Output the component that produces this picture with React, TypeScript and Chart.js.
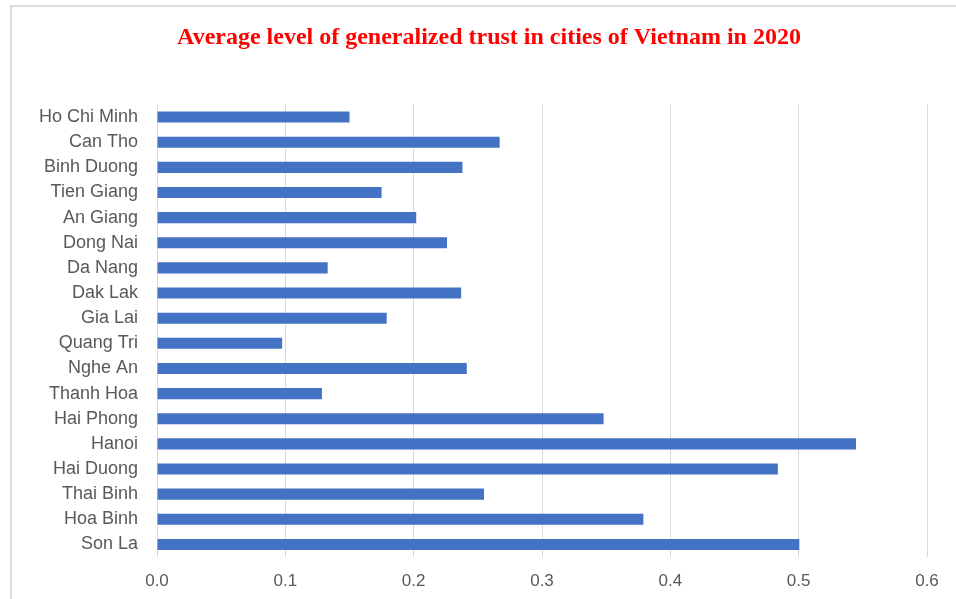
import React, { useEffect, useRef } from "react";
import { Chart, registerables } from "chart.js";

Chart.register(...registerables);

const TITLE = "Average level of generalized trust in cities of Vietnam in 2020";

const cities = [
  "Ho Chi Minh",
  "Can Tho",
  "Binh Duong",
  "Tien Giang",
  "An Giang",
  "Dong Nai",
  "Da Nang",
  "Dak Lak",
  "Gia Lai",
  "Quang Tri",
  "Nghe An",
  "Thanh Hoa",
  "Hai Phong",
  "Hanoi",
  "Hai Duong",
  "Thai Binh",
  "Hoa Binh",
  "Son La",
];

const trust = [
  0.15, 0.267, 0.238, 0.175, 0.202, 0.226, 0.133, 0.237, 0.179, 0.0975,
  0.2414, 0.1285, 0.348, 0.5447, 0.4838, 0.2548, 0.379, 0.5005,
];

const xMin = 0;
const xMax = 0.6;
const xStep = 0.1;

const decorPlugin = {
  id: "decor",
  beforeDraw(chart: any) {
    const ctx = chart.ctx;
    ctx.save();
    ctx.fillStyle = "#ffffff";
    ctx.fillRect(0, 0, chart.width, chart.height);
    ctx.strokeStyle = "#dcdcdc";
    ctx.lineWidth = 2;
    ctx.beginPath();
    ctx.moveTo(11, chart.height + 5);
    ctx.lineTo(11, 6);
    ctx.lineTo(chart.width + 5, 6);
    ctx.stroke();
    ctx.font = "bold 24px 'Liberation Serif', 'Times New Roman', serif";
    ctx.fillStyle = "#ff0000";
    ctx.textAlign = "center";
    ctx.textBaseline = "middle";
    ctx.fillText(TITLE, 489, 38);
    ctx.restore();
  },
};

export default function App() {
  const ref = useRef<HTMLCanvasElement>(null);
  useEffect(() => {
    document.body.style.margin = "0";
    const chart = new Chart(ref.current as HTMLCanvasElement, {
      type: "bar",
      data: {
        labels: cities,
        datasets: [
          {
            data: trust,
            backgroundColor: "#4472C4",
            borderWidth: 0,
            barPercentage: 0.44,
            categoryPercentage: 1,
          },
        ],
      },
      options: {
        indexAxis: "y",
        responsive: false,
        animation: false,
        layout: { padding: { left: 0, right: 29, top: 104.5, bottom: 0 } },
        plugins: {
          legend: { display: false },
          tooltip: { enabled: false },
          title: { display: false },
        },
        scales: {
          x: {
            min: xMin,
            max: xMax,
            ticks: {
              stepSize: xStep,
              callback: (v: any) => Number(v).toFixed(1),
              color: "#595959",
              font: { family: "'Liberation Sans', Arial, sans-serif", size: 17 },
              padding: 14,
            },
            grid: { color: "#d9d9d9", drawTicks: false, lineWidth: 1 },
            border: { display: false },
            afterFit: (s: any) => {
              s.height = 42;
            },
          },
          y: {
            ticks: {
              color: "#595959",
              font: { family: "'Liberation Sans', Arial, sans-serif", size: 18 },
              padding: 19,
              autoSkip: false,
            },
            grid: { display: false, drawTicks: false },
            border: { display: false },
            afterFit: (s: any) => {
              s.width = 157;
            },
          },
        },
      },
      plugins: [decorPlugin],
    });
    return () => chart.destroy();
  }, []);
  return (
    <canvas
      ref={ref}
      width={956}
      height={599}
      style={{ display: "block", width: 956, height: 599 }}
    />
  );
}
